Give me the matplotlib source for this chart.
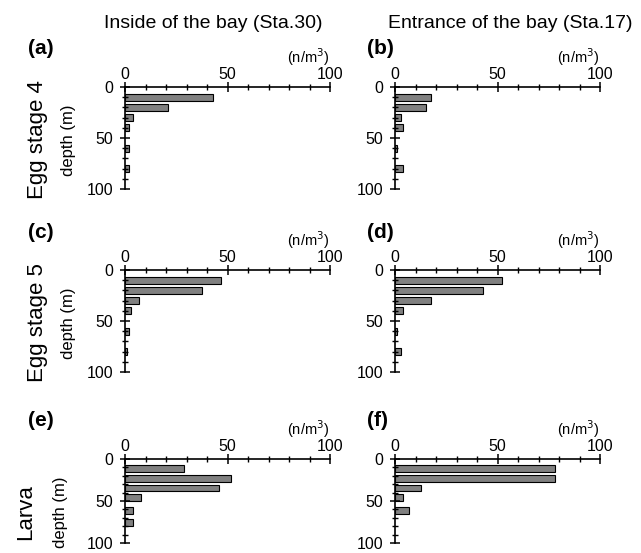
import matplotlib
matplotlib.use("Agg")
import matplotlib.pyplot as plt

plt.rcParams["font.family"] = ["Liberation Sans", "DejaVu Sans"]

# depth of each sampling layer (m)
egg_depth = [10, 20, 30, 40, 60, 80]
larva_depth_e = [11.5, 23, 34.5, 46, 61, 76]
larva_depth_f = [11.5, 23, 34.5, 46, 61]

# density (n/m3)
egg4_in = [42.8, 21, 4.1, 2, 2, 2]
egg4_out = [17.6, 14.9, 2.8, 3.8, 0.8, 3.8]
egg5_in = [46.8, 37.7, 7, 2.9, 2, 1]
egg5_out = [52, 43, 17.8, 3.8, 0.8, 2.8]
larva_in = [29, 51.9, 46, 8, 4.1, 4.1]
larva_out = [78.1, 78.1, 12.9, 3.9, 6.9]

panels = [
    ("(a)", egg_depth, egg4_in, 7),
    ("(b)", egg_depth, egg4_out, 7),
    ("(c)", egg_depth, egg5_in, 7),
    ("(d)", egg_depth, egg5_out, 7),
    ("(e)", larva_depth_e, larva_in, 8),
    ("(f)", larva_depth_f, larva_out, 8),
]

row_names = ["Egg stage 4", "Egg stage 5", "Larva"]

W, H = 641, 553
fig = plt.figure(figsize=(W / 100, H / 100), dpi=100)

# axes boxes in pixels: left, top(y of depth 0), width, height
lefts = [125, 395]
tops = [87, 270, 459]
heights = [102, 102, 84]
width = 205

for i, (lab, depth, val, bh) in enumerate(panels):
    r, c = divmod(i, 2)
    x0 = lefts[c]
    y0 = tops[r]
    h = heights[r]
    ax = fig.add_axes([x0 / W, 1 - (y0 + h) / H, width / W, h / H])

    ax.barh(depth, val, height=bh, color="#808080",
            edgecolor="black", linewidth=0.8)

    ax.set_xlim(0, 100)
    ax.set_ylim(100, 0)
    ax.xaxis.tick_top()
    ax.set_xticks([0, 50, 100])
    ax.set_xticks(range(0, 101, 10), minor=True)
    ax.set_yticks([0, 50, 100])
    ax.set_yticks(range(0, 101, 10), minor=True)
    ax.tick_params(which="major", direction="inout", length=7, width=1.1,
                   labelsize=11.5)
    ax.tick_params(axis="x", which="major", pad=0)
    ax.tick_params(axis="y", which="major", pad=5)
    ax.tick_params(which="minor", direction="inout", length=5, width=1.0)
    for s in ["right", "bottom"]:
        ax.spines[s].set_visible(False)
    ax.spines["top"].set_linewidth(1.2)
    ax.spines["left"].set_linewidth(1.2)
    ax.patch.set_visible(False)

    # panel letter and unit
    fig.text((x0 - 97 if c == 0 else x0 - 28) / W, 1 - (y0 - 38) / H, lab,
             fontsize=15, fontweight="bold", ha="left", va="center")
    fig.text((x0 + 183) / W, 1 - (y0 - 30) / H, "(n/m$^3$)",
             fontsize=10.5, ha="center", va="center")

    if c == 0:
        cy = 1 - (y0 + 53) / H
        nx = 37 if r < 2 else 26
        dx = 69 if r < 2 else 61
        fig.text(nx / W, cy, row_names[r], rotation=90, fontsize=16,
                 ha="center", va="center")
        fig.text(dx / W, cy, "depth (m)", rotation=90, fontsize=12,
                 ha="center", va="center")

fig.text(213 / W, 1 - 23 / H, "Inside of the bay (Sta.30)",
         fontsize=14, ha="center", va="center")
fig.text(510 / W, 1 - 23 / H, "Entrance of the bay (Sta.17)",
         fontsize=14, ha="center", va="center")

fig.savefig("out.png", dpi=100)
